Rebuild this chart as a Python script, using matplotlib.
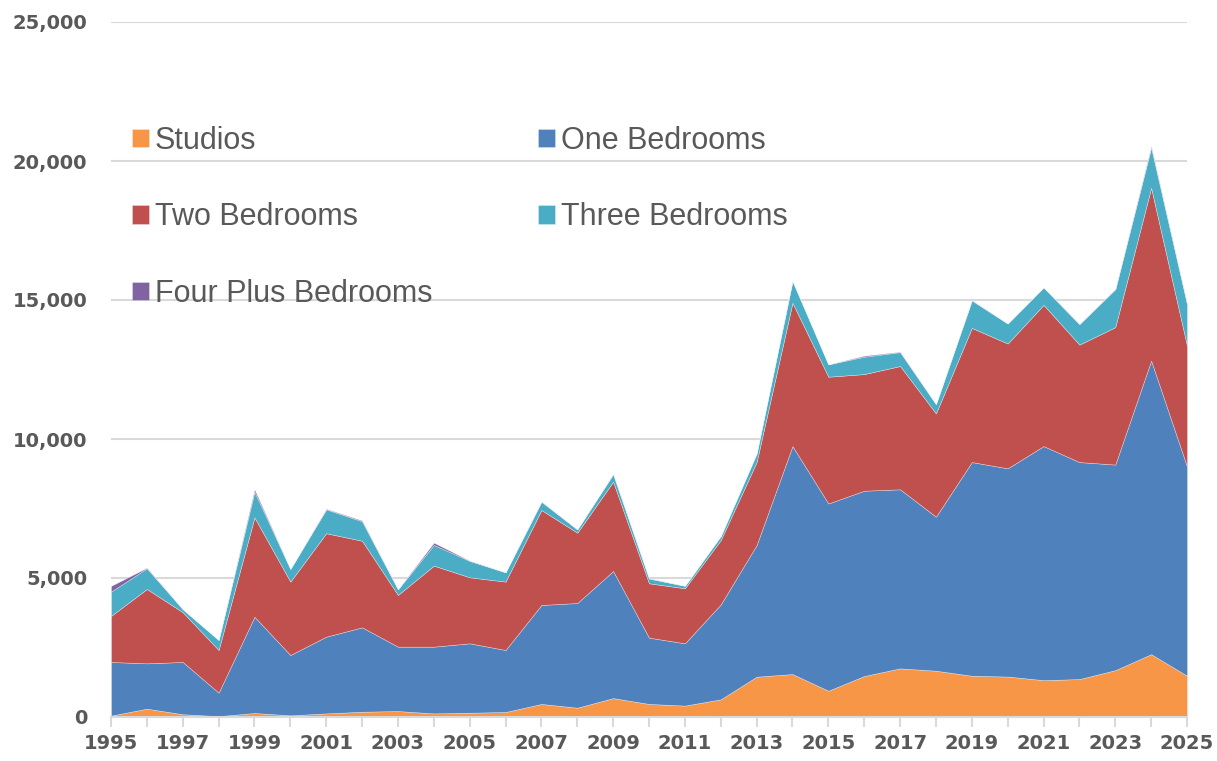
import numpy as np
import matplotlib
matplotlib.use("Agg")
import matplotlib.pyplot as plt
from matplotlib.ticker import FuncFormatter, MultipleLocator

# Units completed per year by unit type
years = list(range(1995, 2026))
studios = [50, 300, 100, 30, 145, 60, 130, 190, 215, 130, 155, 180, 470, 335, 680, 470,
           410, 635, 1450, 1545, 945, 1475, 1750, 1665, 1485, 1455, 1325, 1365, 1685, 2260, 1485]
one_bed = [1930, 1630, 1880, 845, 3460, 2170, 2760, 3035, 2315, 2400, 2495, 2230, 3560, 3765, 4570, 2385,
           2240, 3415, 4735, 8200, 6735, 6665, 6440, 5540, 7685, 7490, 8420, 7805, 7395, 10560, 7525]
two_bed = [1655, 2675, 1790, 1535, 3575, 2640, 3720, 3115, 1860, 2915, 2375, 2460, 3415, 2530, 3215, 1955,
           1980, 2315, 2985, 5155, 4560, 4195, 4435, 3715, 4825, 4490, 5080, 4225, 4945, 6215, 4345]
three_bed = [875, 745, 110, 360, 920, 455, 860, 700, 205, 745, 590, 335, 300, 120, 270, 170,
             90, 145, 310, 780, 445, 625, 500, 335, 990, 720, 630, 735, 1365, 1450, 1500]
four_bed = [205, 20, 0, 0, 85, 0, 20, 30, 0, 80, 10, 0, 10, 0, 10, 10,
            0, 0, 0, 10, 0, 35, 15, 0, 10, 0, 0, 10, 10, 50, 20]
year_labels = list(range(1995, 2026, 2))

labels = ["Studios", "One Bedrooms", "Two Bedrooms", "Three Bedrooms", "Four Plus Bedrooms"]
colors = ["#F79646", "#4F81BD", "#C0504D", "#4BACC6", "#8064A2"]
text_color = "#595959"
grid_color = "#D9D9D9"

fig = plt.figure(figsize=(12.17, 7.61), dpi=100)
ax = fig.add_axes([111 / 1217, 1 - 717 / 761, (1187 - 111) / 1217, (717 - 22) / 761])

polys = ax.stackplot(years, studios, one_bed, two_bed, three_bed, four_bed,
                     colors=colors, labels=labels, linewidth=0.4, edgecolor="#FFFFFF80")

ax.set_xlim(1995, 2025)
ax.set_ylim(0, 25000)
ax.yaxis.set_major_locator(MultipleLocator(5000))
ax.yaxis.set_major_formatter(FuncFormatter(lambda v, p: f"{int(v):,}"))
ax.set_xticks(year_labels)
ax.set_xticklabels([str(y) for y in year_labels])
ax.set_xticks(years, minor=True)

ax.grid(axis="y", color=grid_color, linewidth=1.5)
ax.set_axisbelow(True)
for s in ["top", "right", "left"]:
    ax.spines[s].set_visible(False)
ax.spines["bottom"].set_color(grid_color)
ax.spines["bottom"].set_linewidth(1.5)

ax.tick_params(axis="y", length=0, pad=17, labelsize=14, labelcolor=text_color)
ax.tick_params(axis="x", which="both", length=7, width=1.5, color=grid_color,
               pad=5, labelsize=14, labelcolor=text_color)
for lab in ax.get_xticklabels() + ax.get_yticklabels():
    lab.set_fontweight("bold")

# legend: two columns filled row-wise
order = [0, 2, 4, 1, 3]
handles = [polys[i] for i in order]
leg = ax.legend(handles, [labels[i] for i in order], ncol=2, frameon=False,
                loc="upper left", bbox_to_anchor=(132 / 1217, 1 - 126 / 761),
                bbox_transform=fig.transFigure, borderaxespad=0, borderpad=0,
                prop={"family": "Liberation Sans", "size": 22},
                handlelength=0.55, handleheight=0.55, handletextpad=0.2,
                labelspacing=1.52, columnspacing=3.45)
for t in leg.get_texts():
    t.set_color(text_color)

fig.savefig("out.png", dpi=100)
